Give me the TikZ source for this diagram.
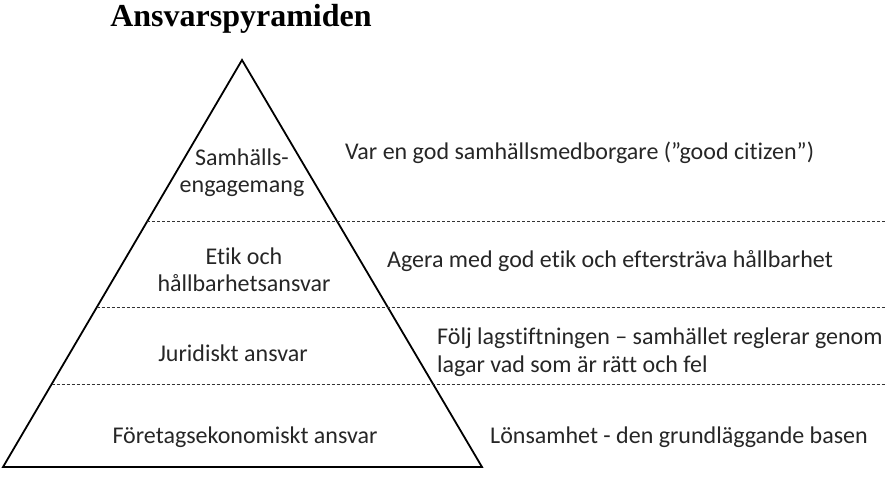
\documentclass[tikz,border=0pt]{standalone}
\usepackage{fontspec}
\setmainfont[Ligatures=NoCommon]{Carlito}
\newfontfamily\titlefont{Liberation Serif}
\usetikzlibrary{calc}
\definecolor{pyrText}{RGB}{38,38,38}

\begin{document}
\begin{tikzpicture}[x=1pt, y=-1pt,
    lvl/.style={font=\fontsize{24}{27}\selectfont, text=pyrText, align=center, inner sep=0pt},
    desc/.style={font=\fontsize{24}{28}\selectfont, text=pyrText, align=left, anchor=west, inner sep=0pt},
    sep/.style={dashed, dash pattern=on 3pt off 2pt, line width=0.8pt, black!80},
    edge/.style={line width=1.8pt, line join=miter}]

    \useasboundingbox (0,0) rectangle (893,479);

    % Title
    \node[font=\titlefont\bfseries\fontsize{32}{36}\selectfont] (title) at (241,19) {Ansvarspyramiden};

    % Pyramid
    \coordinate (apex) at (242,60);
    \coordinate (bl) at (3,467);
    \coordinate (br) at (482,467);
    \draw[edge] (apex) -- (br) -- (bl) -- cycle;

    % Level separators
    \coordinate (s1) at ($(apex)!0.397!(bl)$);
    \coordinate (s2) at ($(apex)!0.608!(bl)$);
    \coordinate (s3) at ($(apex)!0.797!(bl)$);
    \coordinate (e1) at (885,0 |- s1);
    \coordinate (e2) at (885,0 |- s2);
    \coordinate (e3) at (885,0 |- s3);
    \draw[sep] (s1) -- (e1);
    \draw[sep] (s2) -- (e2);
    \draw[sep] (s3) -- (e3);

    % Levels
    \node[lvl] (civic) at (242,173) {Samhälls-\\engagemang};
    \node[lvl] (ethic) at (244,270) {Etik och\\hållbarhetsansvar};
    \node[lvl] (legal) at (233,353) {Juridiskt ansvar};
    \node[lvl] (econ) at (245,437) {Företagsekonomiskt ansvar};

    % Descriptions
    \node[desc] (civicD) at (345,153) {Var en god samhällsmedborgare (”good citizen”)};
    \node[desc] (ethicD) at (387,261) {Agera med god etik och eftersträva hållbarhet};
    \node[desc] (legalD) at (437,352) {Följ lagstiftningen – samhället reglerar genom\\lagar vad som är rätt och fel};
    \node[desc] (econD) at (490,437) {Lönsamhet - den grundläggande basen};

\end{tikzpicture}
\end{document}
